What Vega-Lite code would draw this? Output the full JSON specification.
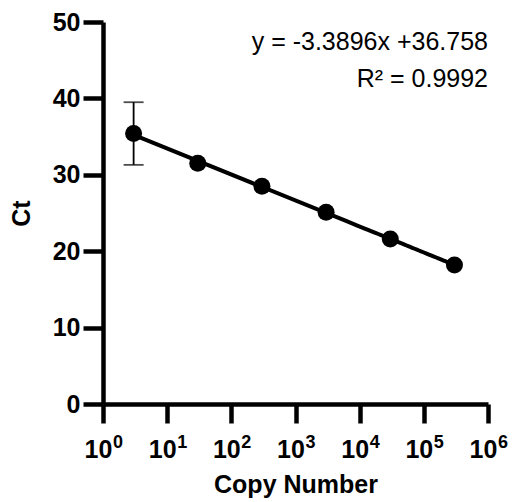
{
  "$schema": "https://vega.github.io/schema/vega-lite/v6.json",
  "width": 385,
  "height": 382,
  "autosize": {"type": "none"},
  "padding": {"left": 103, "top": 22, "right": 25, "bottom": 98},
  "config": {
    "view": {"stroke": null},
    "font": "Liberation Sans",
    "axis": {
      "grid": false,
      "domainColor": "black",
      "tickColor": "black",
      "domainWidth": 4.5,
      "tickWidth": 4.5,
      "labelColor": "black",
      "titleColor": "black",
      "labelFont": "Liberation Sans",
      "titleFont": "Liberation Sans",
      "labelFontWeight": "bold",
      "titleFontWeight": "bold",
      "labelFontSize": 25,
      "titleFontSize": 25
    }
  },
  "datasets": {
    "points": [
      {"copies": 3, "ct": 35.4, "lo": 31.3, "hi": 39.5},
      {"copies": 30, "ct": 31.5},
      {"copies": 300, "ct": 28.5},
      {"copies": 3000, "ct": 25.1},
      {"copies": 30000, "ct": 21.6},
      {"copies": 300000, "ct": 18.2}
    ],
    "notes": [
      {"label": "y = -3.3896x +36.758", "copies": 1000000, "ct": 46.3},
      {"label": "R² = 0.9992", "copies": 1000000, "ct": 41.5}
    ],
    "exponents": [
      {"copies": 1, "exp": "0"},
      {"copies": 10, "exp": "1"},
      {"copies": 100, "exp": "2"},
      {"copies": 1000, "exp": "3"},
      {"copies": 10000, "exp": "4"},
      {"copies": 100000, "exp": "5"},
      {"copies": 1000000, "exp": "6"}
    ]
  },
  "layer": [
    {
      "data": {"name": "points"},
      "transform": [{"regression": "ct", "on": "copies", "method": "log"}],
      "mark": {"type": "line", "color": "black", "strokeWidth": 4},
      "encoding": {
        "x": {
          "field": "copies",
          "type": "quantitative",
          "scale": {"type": "log", "domain": [1, 1000000]},
          "axis": {
            "title": "Copy Number",
            "values": [1, 10, 100, 1000, 10000, 100000, 1000000],
            "labelExpr": "'10'",
            "labelFlush": false,
            "labelAlign": "center",
            "labelOffset": -5,
            "labelBaseline": "alphabetic",
            "tickSize": 19,
            "labelPadding": 34,
            "titlePadding": 10
          }
        },
        "y": {
          "field": "ct",
          "type": "quantitative",
          "scale": {"domain": [0, 50], "nice": false},
          "axis": {
            "title": "Ct",
            "values": [0, 10, 20, 30, 40, 50],
            "tickSize": 20,
            "labelPadding": 3,
            "titlePadding": 18
          }
        }
      }
    },
    {
      "data": {"name": "exponents"},
      "mark": {"type": "text", "align": "center", "baseline": "alphabetic", "fontSize": 18, "fontWeight": "bold", "font": "Liberation Sans", "color": "black", "dx": 15, "dy": 44},
      "encoding": {
        "x": {"field": "copies", "type": "quantitative"},
        "y": {"datum": 0, "type": "quantitative"},
        "text": {"field": "exp"}
      }
    },
    {
      "data": {"name": "points"},
      "transform": [{"filter": "isValid(datum.lo)"}],
      "mark": {"type": "rule", "color": "black", "strokeWidth": 1.8},
      "encoding": {
        "x": {"field": "copies", "type": "quantitative"},
        "y": {"field": "lo", "type": "quantitative"},
        "y2": {"field": "hi"}
      }
    },
    {
      "data": {"name": "points"},
      "transform": [{"filter": "isValid(datum.lo)"}, {"fold": ["lo", "hi"], "as": ["end", "val"]}],
      "mark": {"type": "tick", "orient": "horizontal", "color": "black", "size": 20, "thickness": 1.8},
      "encoding": {
        "x": {"field": "copies", "type": "quantitative"},
        "y": {"field": "val", "type": "quantitative"}
      }
    },
    {
      "data": {"name": "points"},
      "mark": {"type": "circle", "color": "black", "opacity": 1, "size": 290},
      "encoding": {
        "x": {"field": "copies", "type": "quantitative"},
        "y": {"field": "ct", "type": "quantitative"}
      }
    },
    {
      "data": {"name": "notes"},
      "mark": {"type": "text", "align": "right", "baseline": "alphabetic", "fontSize": 25, "font": "Liberation Sans", "color": "black"},
      "encoding": {
        "x": {"field": "copies", "type": "quantitative"},
        "y": {"field": "ct", "type": "quantitative"},
        "text": {"field": "label"}
      }
    }
  ]
}
